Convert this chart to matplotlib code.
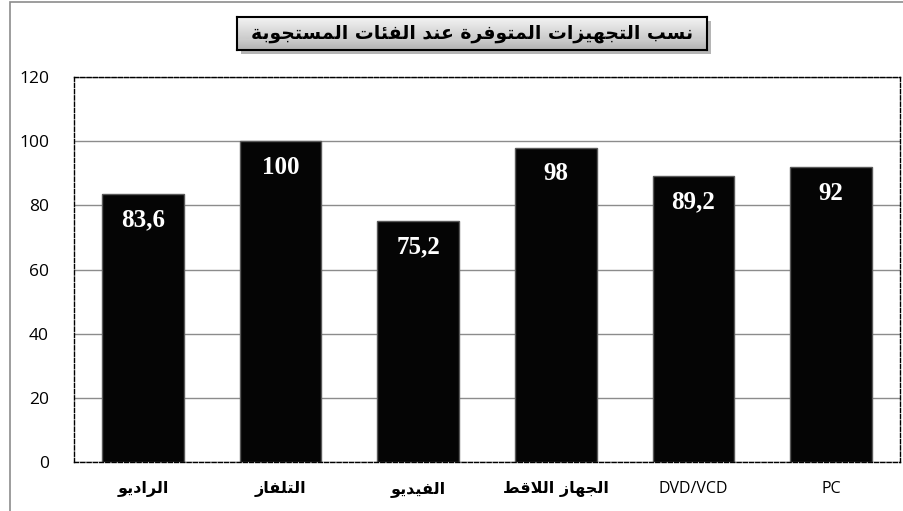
import matplotlib

matplotlib.use("Agg")
import matplotlib.pyplot as plt
import numpy as np
from matplotlib.patches import Rectangle

categories = ["الراديو", "التلفاز", "الفيديو", "الجهاز اللاقط", "DVD/VCD", "PC"]
values = [83.6, 100, 75.2, 98, 89.2, 92]
value_labels = ["83,6", "100", "75,2", "98", "89,2", "92"]
title = "نسب التجهيزات المتوفرة عند الفئات المستجوبة"
yticks = [0, 20, 40, 60, 80, 100, 120]

# minimal arabic shaping: (isolated, final, initial, medial); 2 forms = joins right only
FORMS = {
    "ا": (0xFE8D, 0xFE8E), "ب": (0xFE8F, 0xFE90, 0xFE91, 0xFE92),
    "ة": (0xFE93, 0xFE94), "ت": (0xFE95, 0xFE96, 0xFE97, 0xFE98),
    "ج": (0xFE9D, 0xFE9E, 0xFE9F, 0xFEA0), "د": (0xFEA9, 0xFEAA),
    "ر": (0xFEAD, 0xFEAE), "ز": (0xFEAF, 0xFEB0),
    "س": (0xFEB1, 0xFEB2, 0xFEB3, 0xFEB4), "ط": (0xFEC1, 0xFEC2, 0xFEC3, 0xFEC4),
    "ع": (0xFEC9, 0xFECA, 0xFECB, 0xFECC), "ف": (0xFED1, 0xFED2, 0xFED3, 0xFED4),
    "ق": (0xFED5, 0xFED6, 0xFED7, 0xFED8), "ل": (0xFEDD, 0xFEDE, 0xFEDF, 0xFEE0),
    "م": (0xFEE1, 0xFEE2, 0xFEE3, 0xFEE4), "ن": (0xFEE5, 0xFEE6, 0xFEE7, 0xFEE8),
    "ه": (0xFEE9, 0xFEEA, 0xFEEB, 0xFEEC), "و": (0xFEED, 0xFEEE),
    "ي": (0xFEF1, 0xFEF2, 0xFEF3, 0xFEF4), "ئ": (0xFE89, 0xFE8A, 0xFE8B, 0xFE8C),
    "لا": (0xFEFB, 0xFEFC),
}


def shape(text):
    if not any(c in FORMS for c in text):
        return text
    toks = []
    i = 0
    while i < len(text):
        if text[i:i + 2] == "لا":
            toks.append("لا")
            i += 2
        else:
            toks.append(text[i])
            i += 1
    out = []
    for k, t in enumerate(toks):
        f = FORMS.get(t)
        if f is None:
            out.append(t)
            continue
        prev = toks[k - 1] if k > 0 else None
        nxt = toks[k + 1] if k + 1 < len(toks) else None
        jp = prev in FORMS and len(FORMS[prev]) == 4
        jn = len(f) == 4 and nxt in FORMS
        if jp and jn:
            out.append(chr(f[3]))
        elif jp:
            out.append(chr(f[1]))
        elif jn:
            out.append(chr(f[2]))
        else:
            out.append(chr(f[0]))
    return "".join(out)[::-1]


fig = plt.figure(figsize=(9.04, 5.11), dpi=100)
fig.patches.append(Rectangle((10 / 904, -0.1), 1.2, 1.1 - 2 / 511, transform=fig.transFigure,
                             fill=False, ec="#8c8c8c", lw=1.2))

ax = fig.add_axes([74 / 904, 49 / 511, 826 / 904, 385 / 511])
x = np.arange(len(categories))
bars = ax.bar(x, values, 0.595, color="#050505", edgecolor="#5a5a5a", lw=1.0, zorder=2)
for b, lab in zip(bars, value_labels):
    ax.annotate(lab, (b.get_x() + b.get_width() / 2, b.get_height()),
                xytext=(0, -19), textcoords="offset points", ha="center", va="center",
                color="white", fontsize=18, fontweight="bold", family="Liberation Serif",
                zorder=3)

ax.set_xlim(-0.5, len(categories) - 0.5)
ax.set_ylim(0, 120)
ax.set_yticks(yticks)
ax.set_yticklabels([str(v) for v in yticks], fontsize=12.5, family="Open Sans")
ax.set_xticks(x)
ax.set_xticklabels([shape(c) for c in categories])
for lbl, c in zip(ax.get_xticklabels(), categories):
    if shape(c) != c:
        lbl.set_family("DejaVu Sans")
        lbl.set_fontweight("bold")
        lbl.set_fontsize(11.5)
    else:
        lbl.set_family("Open Sans")
        lbl.set_fontsize(11.5)
ax.tick_params(length=0, pad=14)
ax.tick_params(axis="y", pad=18)
ax.grid(axis="y", color="#8c8c8c", lw=1.0, zorder=1)
for s in ax.spines.values():
    s.set_linestyle((0, (3, 1.5)))
    s.set_linewidth(1.0)
    s.set_color("black")

# title box with gradient and shadow
bx, by, bw, bh = 237 / 904, 1 - 50 / 511, 470 / 904, 33 / 511
shadow = fig.add_axes([bx + 4 / 904, by - 4 / 511, bw, bh])
shadow.set_facecolor("#b5b5b5")
shadow.set_xticks([])
shadow.set_yticks([])
for s in shadow.spines.values():
    s.set_visible(False)
tax = fig.add_axes([bx, by, bw, bh])
grad = np.concatenate([np.linspace(0.95, 0.80, 20), np.linspace(0.80, 0.70, 10)])
tax.imshow(grad[:, None], cmap="gray", vmin=0, vmax=1, aspect="auto",
           extent=[0, 1, 0, 1])
tax.set_xticks([])
tax.set_yticks([])
for s in tax.spines.values():
    s.set_linewidth(1.5)
tax.text(0.5, 0.5, shape(title), ha="center", va="center", fontsize=13.5,
         fontweight="bold", family="DejaVu Sans", transform=tax.transAxes)

fig.savefig("out.png", dpi=100)
